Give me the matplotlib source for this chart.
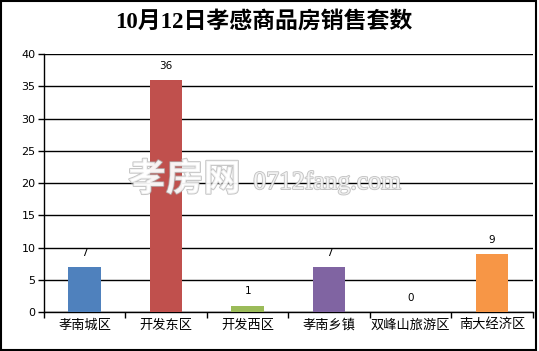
import matplotlib
matplotlib.use("Agg")
import matplotlib.pyplot as plt
import matplotlib.patheffects as pe
from matplotlib.patches import Rectangle

plt.rcParams['font.family'] = ['Noto Sans CJK SC', 'DejaVu Sans']

categories = ["孝南城区", "开发东区", "开发西区", "孝南乡镇", "双峰山旅游区", "南大经济区"]
values = [7, 36, 1, 7, 0, 9]
colors = ["#4F81BD", "#C0504D", "#9BBB59", "#8064A2", "#4BACC6", "#F79646"]
yticks = [0, 5, 10, 15, 20, 25, 30, 35, 40]

fig = plt.figure(figsize=(5.39, 3.51), dpi=100)
ax = fig.add_axes([0.0816, 0.111, 0.907, 0.735])

x = list(range(len(categories)))
ax.bar(x, values, width=0.4, color=colors, zorder=3)
for xi, v in zip(x, values):
    ax.text(xi, v + 2.2, str(v), ha="center", va="center", fontsize=7.5,
            family="DejaVu Sans", zorder=4)

ax.set_xlim(-0.5, len(categories) - 0.5)
ax.set_ylim(0, 40)
ax.set_yticks(yticks)
ax.set_yticklabels([str(t) for t in yticks], fontsize=8, family="DejaVu Sans")
ax.set_xticks([i - 0.5 for i in range(len(categories) + 1)])
ax.set_xticklabels([])
ax.set_xticks(x, minor=True)
ax.set_xticklabels(categories, minor=True, fontsize=9.5)
ax.tick_params(axis="x", which="minor", length=0, pad=5)
ax.tick_params(axis="x", which="major", length=4, width=1, color="black", direction="out")
ax.tick_params(axis="y", length=4, width=1, direction="out", pad=2)
ax.yaxis.grid(True, color="black", linewidth=1, zorder=0)
ax.set_axisbelow(True)
for s in ["top", "right"]:
    ax.spines[s].set_visible(False)
for s in ["left", "bottom"]:
    ax.spines[s].set_linewidth(1)

fig.text(0.49, 0.937, "10月12日孝感商品房销售套数", ha="center", va="center",
         fontsize=16.5, fontweight="bold", family=["Liberation Serif", "Noto Sans CJK SC"])

# watermark
fig.text(0.238, 0.49, "孝房网", ha="left", va="center", fontsize=27, fontweight="bold",
         color="white", alpha=0.75, zorder=10,
         path_effects=[pe.withStroke(linewidth=1.3, foreground="#b0b0b0")])
fig.text(0.47, 0.48, "0712fang.com", ha="left", va="center", fontsize=18.5,
         family="Liberation Serif", color="white", alpha=0.75, zorder=10,
         path_effects=[pe.withStroke(linewidth=1.3, foreground="#b0b0b0")])

fig.patches.append(Rectangle((0.001, 0.004), 0.994, 0.994, transform=fig.transFigure,
                             fill=False, edgecolor="black", linewidth=1.5))

fig.savefig("out.png", dpi=100)
